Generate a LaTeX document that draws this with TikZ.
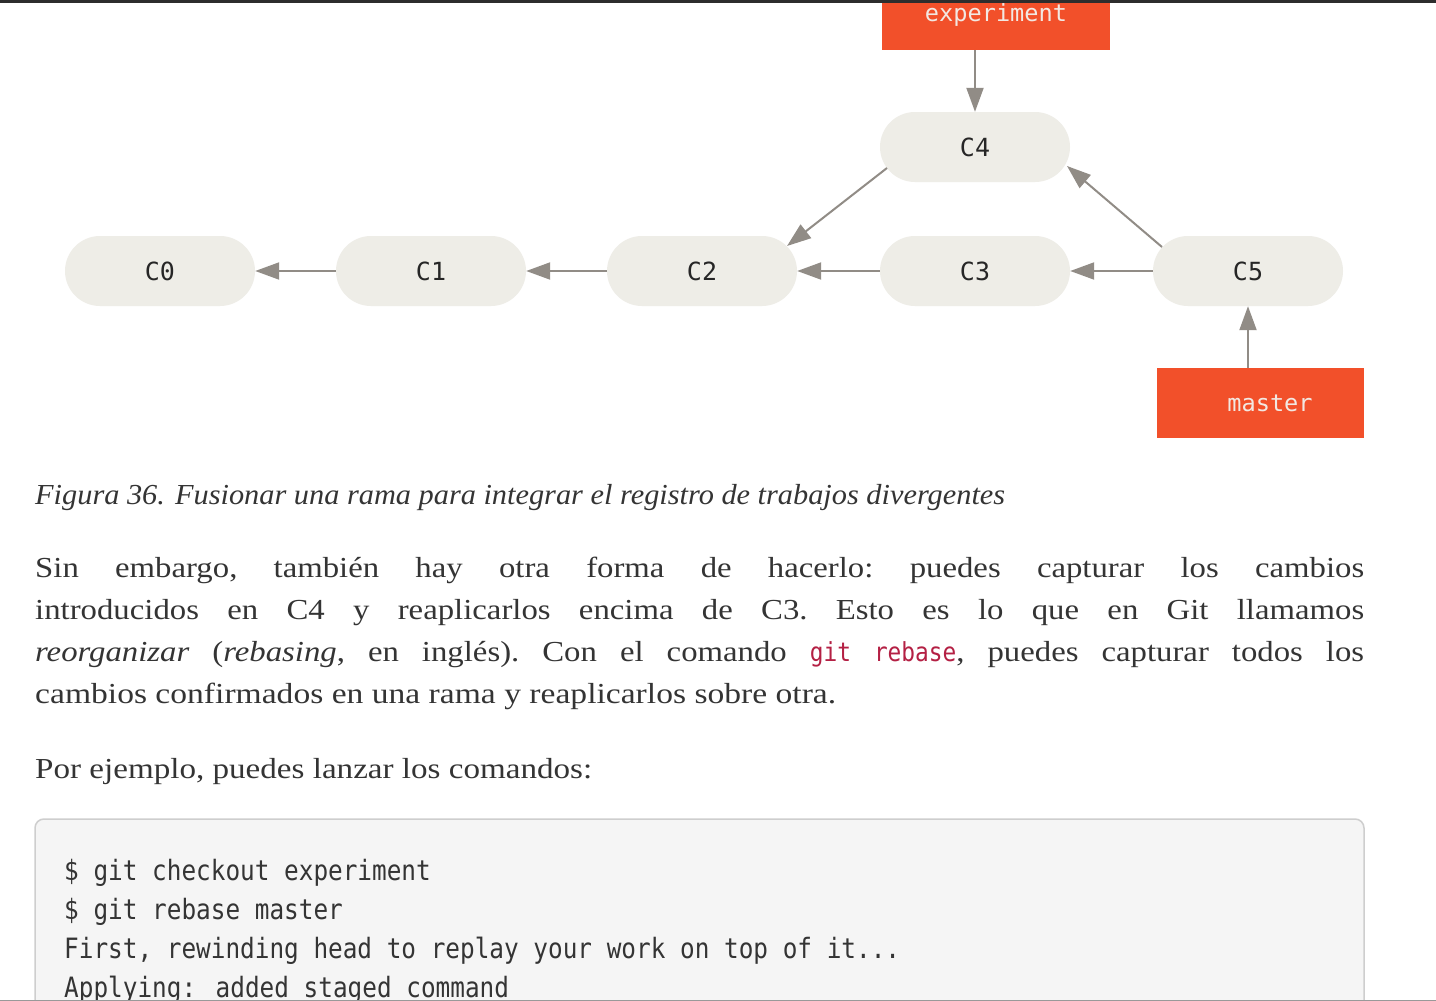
\documentclass[tikz,border=0pt]{standalone}
\usepackage{fontspec}
\usepackage{graphicx}
\setmainfont[FakeStretch=1.13]{Liberation Serif}
\newfontfamily\codefont{DejaVu Sans Mono}
\newfontfamily\listingfont[FakeStretch=0.87]{DejaVu Sans Mono}
\usetikzlibrary{arrows.meta,calc}

\definecolor{ink}{RGB}{52,52,52}
\definecolor{nodeink}{RGB}{38,38,38}
\definecolor{gitorange}{RGB}{242,80,42}
\definecolor{labeltext}{RGB}{242,232,226}
\definecolor{commitfill}{RGB}{238,237,231}
\definecolor{arrowgray}{RGB}{145,140,134}
\definecolor{codered}{RGB}{180,32,68}
\definecolor{codebg}{RGB}{245,245,245}
\definecolor{codeframe}{RGB}{206,206,206}
\definecolor{topbar}{RGB}{45,45,45}

% stretch a line of text to a given width, keeping its height
\newcommand\wideto[2]{\resizebox{#1}{\height}{#2}}
\newcommand\bodysize{\fontsize{29}{42}\selectfont}
\newcommand\inlinecode[1]{{\listingfont\fontsize{26.2}{42}\selectfont\color{codered}#1}}

\begin{document}
\begin{tikzpicture}[x=1pt,y=-1pt,
  commit/.style={fill=commitfill, rounded corners=35pt, minimum width=190pt,
    minimum height=70pt, inner sep=0pt, text=nodeink,
    font=\codefont\fontsize{25}{25}\selectfont},
  branch/.style={fill=gitorange, minimum height=70pt, inner sep=0pt,
    text=labeltext, font=\codefont\fontsize{23.6}{24}\selectfont},
  link/.style={draw=arrowgray, line width=2pt,
    -{Triangle[length=24pt,width=17pt]}},
  prose/.style={anchor=base west, inner sep=0pt, text=ink, font=\bodysize},
  codeline/.style={anchor=base west, inner sep=0pt, text=ink,
    font=\listingfont\fontsize{28}{39}\selectfont}]
\useasboundingbox (0,0) rectangle (1436,1001);
\fill[white] (0,0) rectangle (1436,1001);

% commit graph
\node[commit] (c0) at (160,271) {C0};
\node[commit] (c1) at (431,271) {C1};
\node[commit] (c2) at (702,271) {C2};
\node[commit] (c3) at (975,271) {C3};
\node[commit] (c4) at (975,147) {C4};
\node[commit] (c5) at (1248,271) {C5};

\node[branch, minimum width=228pt] (experiment) at (996,15) {\raisebox{-2pt}{experiment}};
\node[branch, minimum width=207pt] (master) at (1260.5,403) {\hspace*{19pt}master};

\draw[link] (c1) -- (c0);
\draw[link] (c2) -- (c1);
\draw[link] (c3) -- (c2);
\draw[link] (c5) -- (c3);
\draw[link] ([shift={(-88,21)}]c4.center) -- ([shift={(85,-25)}]c2.center);
\draw[link] ([shift={(-86,-24)}]c5.center) -- ([shift={(92,19)}]c4.center);
\draw[link] (c4.north |- experiment.south) -- (c4.north);
\draw[link] (c5.south |- master.north) -- (c5.south);

% window edge
\fill[topbar] (0,0) rectangle (1436,3);

% caption and body text
\node[prose] (caption) at (35,504) {\wideto{970pt}{\itshape Figura 36. Fusionar una rama para integrar el registro de trabajos divergentes}};
\node[prose] (line1) at (35,577) {\hbox to 1329pt{Sin\hfill embargo,\hfill también\hfill hay\hfill otra\hfill forma\hfill de\hfill hacerlo:\hfill puedes\hfill capturar\hfill los\hfill cambios}};
\node[prose] (line2) at (35,619) {\hbox to 1329pt{introducidos\hfill en\hfill C4\hfill y\hfill reaplicarlos\hfill encima\hfill de\hfill C3.\hfill Esto\hfill es\hfill lo\hfill que\hfill en\hfill Git\hfill llamamos}};
\node[prose] (line3) at (35,661) {\hbox to 1329pt{\textit{reorganizar}\hfill (\textit{rebasing},\hfill en\hfill inglés).\hfill Con\hfill el\hfill comando\hfill \inlinecode{git}\hfill \inlinecode{rebase},\hfill puedes\hfill capturar\hfill todos\hfill los}};
\node[prose] (line4) at (35,703) {\wideto{801pt}{cambios confirmados en una rama y reaplicarlos sobre otra.}};
\node[prose] (intro) at (35,778) {\wideto{557pt}{Por ejemplo, puedes lanzar los comandos:}};

% code listing
\draw[codeframe, fill=codebg, line width=1.5pt, rounded corners=9pt] (35,819) rectangle (1364,1040);
\node[codeline] (cmd1) at (64,880) {\$ git checkout experiment};
\node[codeline] (cmd2) at (64,919) {\$ git rebase master};
\node[codeline] (out1) at (64,958) {First, rewinding head to replay your work on top of it...};
\node[codeline] (out2) at (64,997) {Applying: added staged command};
\draw[gray!80, line width=1.5pt] (0,1000.5) -- (1436,1000.5);
\end{tikzpicture}
\end{document}
